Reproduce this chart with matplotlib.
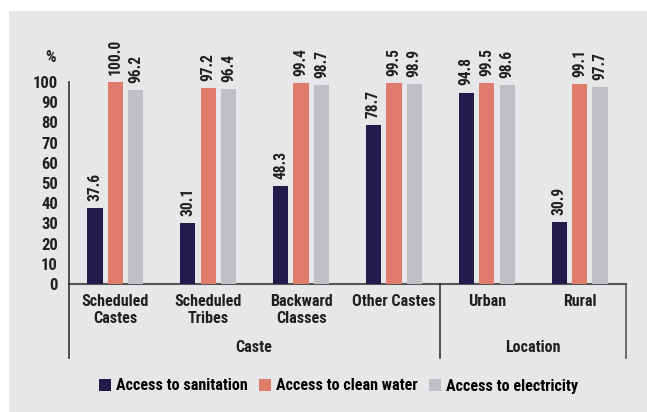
import matplotlib
matplotlib.use("Agg")
import matplotlib.pyplot as plt
from matplotlib.patches import Rectangle
from matplotlib.lines import Line2D
import numpy as np

categories = ["Scheduled\nCastes", "Scheduled\nTribes", "Backward\nClasses", "Other Castes", "Urban", "Rural"]
groups = ["Caste", "Location"]
series_names = ["Access to sanitation", "Access to clean water", "Access to electricity"]
sanitation = [37.6, 30.1, 48.3, 78.7, 94.8, 30.9]
water = [100.0, 97.2, 99.4, 99.5, 99.5, 99.1]
electricity = [96.2, 96.4, 98.7, 98.9, 98.6, 97.7]
yticks = list(range(0, 101, 10))

colors = ["#241a4b", "#e07a6b", "#bfc0c4"]
bg = "#e6e7e8"
txt = "#231f20"
fam = ["Roboto Condensed", "Liberation Sans", "DejaVu Sans"]
plt.rcParams["font.family"] = fam
plt.rcParams["font.weight"] = "bold"

W, H = 647, 412
fig = plt.figure(figsize=(W / 100, H / 100), dpi=100)
fig.patch.set_facecolor("white")
fig.patches.append(Rectangle((9 / W, 0), 1 - 9 / W, 1 - 11 / H, transform=fig.transFigure,
                             facecolor=bg, edgecolor="none", zorder=-10))

x0, x1 = 69, 626
y0, y100 = 284, 82
ax = fig.add_axes([x0 / W, 1 - y0 / H, (x1 - x0) / W, (y0 - y100) / H])
ax.set_facecolor("none")
n = len(categories)
ax.set_xlim(-0.5, n - 0.5)
ax.set_ylim(0, 100)

x = np.arange(n)
off = 0.22
bw = 0.165
for i, (vals, c) in enumerate(zip([sanitation, water, electricity], colors)):
    xs = x + (i - 1) * off
    ax.bar(xs, vals, width=bw, color=c, label=series_names[i], zorder=3)
    for xi, v in zip(xs, vals):
        ax.text(xi, v + 3.5, f"{v:.1f}", rotation=90, ha="center", va="bottom",
                fontsize=11.2, fontweight="bold", color=txt, clip_on=False)

for s in ["top", "right"]:
    ax.spines[s].set_visible(False)
ax.spines["left"].set_color("#333333")
ax.spines["bottom"].set_color("#555555")
ax.spines["left"].set_linewidth(1.2)
ax.spines["bottom"].set_linewidth(1.5)

ax.set_yticks(yticks)
ax.set_yticklabels([str(t) for t in yticks], fontsize=12, fontweight="bold", color=txt)
ax.tick_params(axis="y", length=0, pad=8)
ax.set_xticks(x)
ax.set_xticklabels(categories, fontsize=11.6, fontweight="bold", color=txt, linespacing=1.1)
ax.tick_params(axis="x", length=0, pad=7.5)

fig.text(51 / W, 1 - 58 / H, "%", ha="center", va="center", fontsize=12, fontweight="bold", color=txt)

# group separators
ybot = 358
for xp, col in [(x0, "#333333"), (440, "#333333"), (x1, "#555555")]:
    fig.add_artist(Line2D([xp / W, xp / W], [1 - y0 / H, 1 - ybot / H], transform=fig.transFigure,
                          color=col, linewidth=1.2))
fig.text(254 / W, 1 - 348 / H, groups[0], ha="center", va="center", fontsize=11.6, fontweight="bold", color=txt)
fig.text(533 / W, 1 - 348 / H, groups[1], ha="center", va="center", fontsize=11.6, fontweight="bold", color=txt)

fig.legend(loc="center", bbox_to_anchor=(338.5 / W, 1 - 386 / H), ncol=3, frameon=False,
           handlelength=0.75, handleheight=0.75, handletextpad=0.32, columnspacing=0.7,
           prop={"family": fam, "weight": "bold", "size": 11.6})

fig.savefig("out.png", dpi=100, facecolor=fig.get_facecolor())
